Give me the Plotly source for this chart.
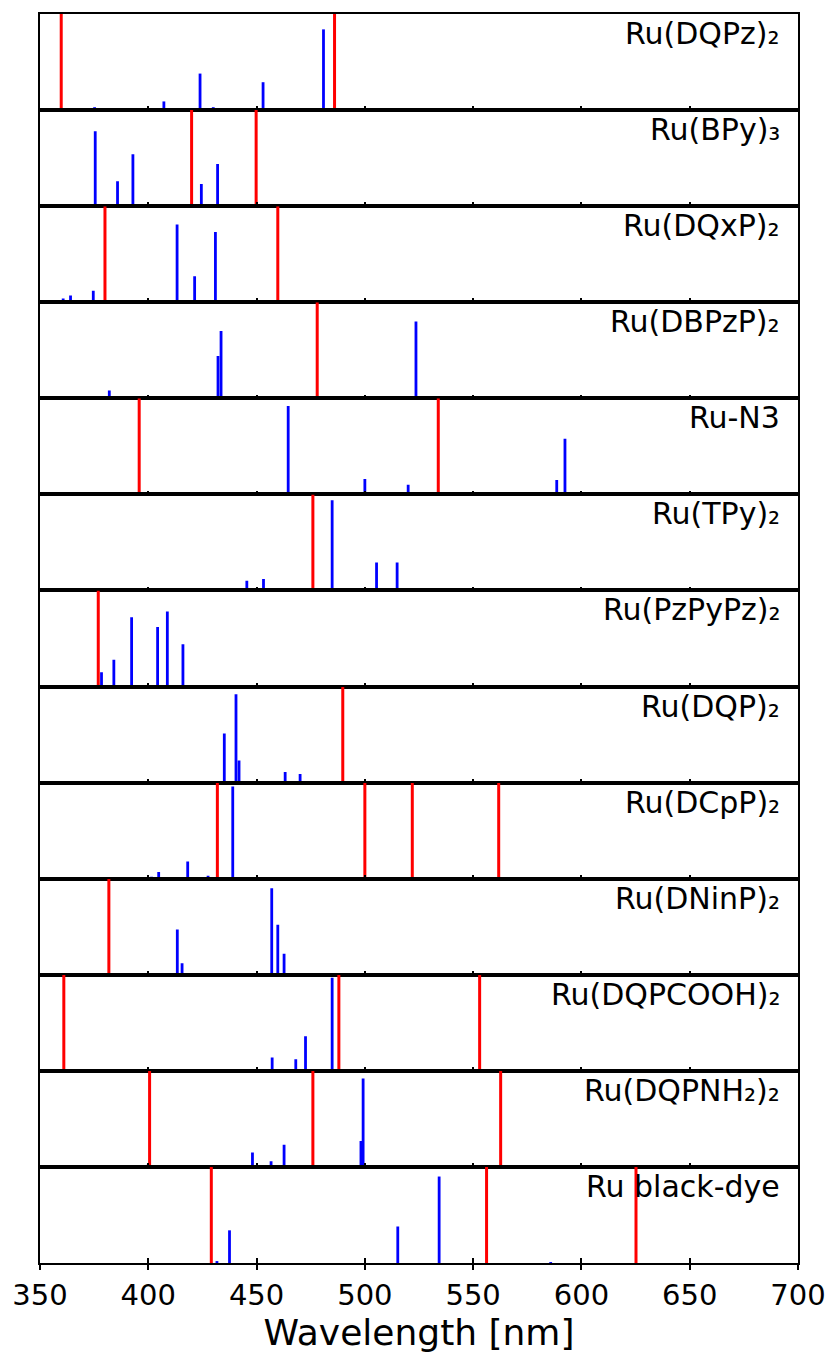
import plotly.graph_objects as go
from plotly.subplots import make_subplots

# ---------------- data ----------------
names = ["Ru(DQPz)₂", "Ru(BPy)₃", "Ru(DQxP)₂", "Ru(DBPzP)₂", "Ru-N3", "Ru(TPy)₂",
         "Ru(PzPyPz)₂", "Ru(DQP)₂", "Ru(DCpP)₂", "Ru(DNinP)₂", "Ru(DQPCOOH)₂",
         "Ru(DQPNH₂)₂", "Ru black-dye"]

stick_wl_1 = [375.2, 407.2, 423.9, 430.0, 453.0, 480.9]
stick_f_1 = [0.03, 0.09, 0.38, 0.03, 0.29, 0.84]
red_wl_1 = [359.8, 486.0]

stick_wl_2 = [375.5, 385.8, 392.9, 406.5, 424.5, 432.0]
stick_f_2 = [0.78, 0.26, 0.54, 0.01, 0.23, 0.44]
red_wl_2 = [420.0, 449.8]

stick_wl_3 = [360.7, 364.1, 374.6, 413.3, 421.4, 431.0]
stick_f_3 = [0.04, 0.07, 0.12, 0.81, 0.27, 0.73]
red_wl_3 = [380.0, 459.8]

stick_wl_4 = [360.2, 382.0, 394.5, 432.2, 433.6, 523.6, 552.6, 614.5]
stick_f_4 = [0.01, 0.08, 0.01, 0.44, 0.70, 0.80, 0.02, 0.02]
red_wl_4 = [478.0]

stick_wl_5 = [430.4, 464.6, 500.0, 520.0, 588.6, 592.4]
stick_f_5 = [0.02, 0.92, 0.16, 0.10, 0.15, 0.58]
red_wl_5 = [395.8, 533.9]

stick_wl_6 = [445.5, 453.2, 484.9, 505.4, 514.9]
stick_f_6 = [0.10, 0.12, 0.94, 0.29, 0.29]
red_wl_6 = [476.0]

stick_wl_7 = [378.4, 384.1, 392.3, 404.3, 408.8, 416.0]
stick_f_7 = [0.15, 0.28, 0.72, 0.62, 0.78, 0.44]
red_wl_7 = [376.9]

stick_wl_8 = [435.1, 440.5, 441.9, 463.2, 470.1]
stick_f_8 = [0.51, 0.92, 0.23, 0.11, 0.09]
red_wl_8 = [489.8]

stick_wl_9 = [401.5, 404.8, 418.2, 427.6, 439.0]
stick_f_9 = [0.02, 0.07, 0.18, 0.03, 0.96]
red_wl_9 = [431.9, 500.0, 521.9, 561.8]

stick_wl_10 = [410.3, 413.4, 415.6, 457.0, 459.8, 462.7]
stick_f_10 = [0.01, 0.47, 0.12, 0.90, 0.52, 0.22]
red_wl_10 = [381.8]

stick_wl_11 = [457.2, 468.1, 470.9, 472.6, 484.9]
stick_f_11 = [0.14, 0.12, 0.01, 0.36, 0.97]
red_wl_11 = [361.0, 488.0, 553.0]

stick_wl_12 = [400.0, 448.1, 456.7, 462.7, 498.2, 499.2]
stick_f_12 = [0.03, 0.15, 0.06, 0.23, 0.27, 0.92]
red_wl_12 = [400.6, 476.0, 562.7]

stick_wl_13 = [431.7, 437.5, 515.2, 534.3, 585.8]
stick_f_13 = [0.02, 0.34, 0.38, 0.90, 0.01]
red_wl_13 = [429.1, 556.2, 625.2]

stick_wls = [stick_wl_1, stick_wl_2, stick_wl_3, stick_wl_4, stick_wl_5, stick_wl_6, stick_wl_7,
             stick_wl_8, stick_wl_9, stick_wl_10, stick_wl_11, stick_wl_12, stick_wl_13]
stick_fs = [stick_f_1, stick_f_2, stick_f_3, stick_f_4, stick_f_5, stick_f_6, stick_f_7,
            stick_f_8, stick_f_9, stick_f_10, stick_f_11, stick_f_12, stick_f_13]
red_wls = [red_wl_1, red_wl_2, red_wl_3, red_wl_4, red_wl_5, red_wl_6, red_wl_7,
           red_wl_8, red_wl_9, red_wl_10, red_wl_11, red_wl_12, red_wl_13]

x_ticks = [350, 400, 450, 500, 550, 600, 650, 700]
x_range = [350, 700]
x_title = "Wavelength [nm]"

# ---------------- figure ----------------
n = len(names)
FONT = "DejaVu Sans"
fig = make_subplots(rows=n, cols=1, shared_xaxes=True, vertical_spacing=0)

def stick_xy(xs, ys):
    X, Y = [], []
    for x, y in zip(xs, ys):
        X += [x, x, None]
        Y += [0, y, None]
    return X, Y

for i in range(n):
    sx, sy = stick_xy(stick_wls[i], stick_fs[i])
    fig.add_trace(go.Scatter(x=sx, y=sy, mode="lines",
                             line=dict(color="#0000ff", width=2.8),
                             showlegend=False, hoverinfo="skip"), row=i + 1, col=1)
    rx, ry = stick_xy(red_wls[i], [1] * len(red_wls[i]))
    fig.add_trace(go.Scatter(x=rx, y=ry, mode="lines",
                             line=dict(color="#ff0000", width=3),
                             showlegend=False, hoverinfo="skip"), row=i + 1, col=1)
    k = "" if i == 0 else str(i + 1)
    fig.add_annotation(text=names[i], xref=f"x{k} domain", yref=f"y{k} domain",
                       x=0.979, y=1, xanchor="right", yanchor="top", yshift=0,
                       showarrow=False, font=dict(family=FONT, size=30, color="black"))

axis_common = dict(showline=True, mirror=True, linecolor="black", linewidth=1.5,
                   showgrid=False, zeroline=False, automargin=False)

for i in range(n):
    last = (i == n - 1)
    fig.update_xaxes(range=x_range, tickvals=x_ticks, ticks="outside" if last else "inside",
                     ticklen=5 if last else 4, tickwidth=1.5, tickcolor="black",
                     showticklabels=last,
                     tickfont=dict(family=FONT, size=29, color="black"),
                     **axis_common, row=i + 1, col=1)
    fig.update_yaxes(range=[0, 1], showticklabels=False, ticks="", fixedrange=True,
                     **axis_common, row=i + 1, col=1)

fig.update_xaxes(title=dict(text=x_title, font=dict(family=FONT, size=36, color="black"),
                            standoff=9),
                 ticklabelstandoff=0, row=n, col=1)

# inner ticks on the bottom panel (ticks crossing the axis line)
fig.add_trace(go.Scatter(x=[None], y=[None], xaxis="x14", yaxis=f"y{n}",
                         showlegend=False, hoverinfo="skip"))
fig.update_layout(xaxis14=dict(overlaying=f"x{n}", anchor=f"y{n}", range=x_range,
                               tickvals=x_ticks, ticks="inside", ticklen=5, tickwidth=1.5,
                               tickcolor="black", showticklabels=False, showline=False,
                               showgrid=False, zeroline=False, side="bottom",
                               automargin=False))

fig.update_layout(width=832, height=1353,
                  margin=dict(l=40, r=34, t=14, b=90, autoexpand=False),
                  paper_bgcolor="white", plot_bgcolor="white",
                  font=dict(family=FONT, color="black"))

fig.write_html("out.html")
